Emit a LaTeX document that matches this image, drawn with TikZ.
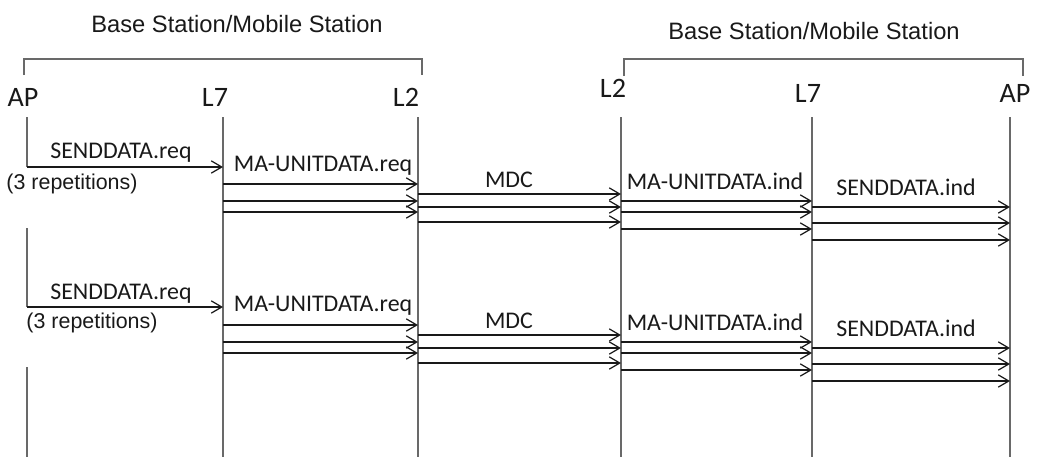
\documentclass[tikz,border=0pt]{standalone}
\usepackage{fontspec}
\setmainfont{Liberation Sans}
\newfontfamily\calfont{Carlito}
\usetikzlibrary{arrows.meta}
\definecolor{inkc}{RGB}{25,25,25}
\definecolor{linec}{RGB}{105,105,105}
\tikzset{
  life/.style={draw=linec, line width=0.65pt},
  brk/.style={draw=linec, line width=0.65pt},
  msg/.style={-{Straight Barb[length=6pt, width=7pt]}, draw=inkc, line width=0.7pt},
  head/.style={font=\calfont\fontsize{16}{19}\selectfont, text=inkc, inner sep=0pt},
  lbl/.style={font=\calfont\fontsize{13.6}{16}\selectfont, text=inkc, inner sep=0pt},
  title/.style={font=\fontsize{13.5}{16}\selectfont, text=inkc, inner sep=0pt},
  rep/.style={font=\fontsize{12.2}{14}\selectfont, text=inkc, inner sep=0pt},
}
% three messages between two lifelines, one at each height
\newcommand{\msgs}[5]{%
  \draw[msg] (#1 |- 0,#3) -- (#2 |- 0,#3);
  \draw[msg] (#1 |- 0,#4) -- (#2 |- 0,#4);
  \draw[msg] (#1 |- 0,#5) -- (#2 |- 0,#5);}

\begin{document}
\begin{tikzpicture}[x=0.02cm, y=-0.02cm]
  \useasboundingbox (0,0) rectangle (1039,457);

  \node[title] (stationa) at (237,24) {Base Station/Mobile Station};
  \node[title] (stationb) at (814,31) {Base Station/Mobile Station};
  \draw[brk] (24,75) |- (422,59) -- (422,75);
  \draw[brk] (624,76) |- (1023,59) -- (1023,76);

  \node[head] (apa) at (23,97) {AP};
  \node[head] (lsevena) at (215,97) {L7};
  \node[head] (ltwoa) at (406,97) {L2};
  \node[head] (ltwob) at (613,88) {L2};
  \node[head] (lsevenb) at (808,93) {L7};
  \node[head] (apb) at (1015,93) {AP};

  % lifelines
  \coordinate (apx) at (27,117);
  \coordinate (lsevenx) at (223,117);
  \coordinate (ltwox) at (418,117);
  \coordinate (ltwoy) at (621,117);
  \coordinate (lseveny) at (812,117);
  \coordinate (apy) at (1010,117);
  \draw[life] (apx) -- (apx |- 0,167);
  \draw[life] (apx |- 0,228) -- (apx |- 0,307);
  \draw[life] (apx |- 0,367) -- (apx |- 0,457);
  \draw[life] (lsevenx) -- (lsevenx |- 0,457);
  \draw[life] (ltwox) -- (ltwox |- 0,457);
  \draw[life] (ltwoy) -- (ltwoy |- 0,457);
  \draw[life] (lseveny) -- (lseveny |- 0,457);
  \draw[life] (apy) -- (apy |- 0,457);

  % first round
  \node[lbl] (senda) at (121,153) {SENDDATA.req};
  \node[rep] (repa) at (72,184) {(3 repetitions)};
  \node[lbl] (unitreqa) at (323,166) {MA-UNITDATA.req};
  \node[lbl] (mdca) at (509,180) {MDC};
  \node[lbl] (unitinda) at (715,181) {MA-UNITDATA.ind};
  \node[lbl] (sendinda) at (906,187) {SENDDATA.ind};
  \draw[msg] (apx |- 0,167) -- (lsevenx |- 0,167);
  \msgs{lsevenx}{ltwox}{184}{201}{212}
  \msgs{ltwox}{ltwoy}{194}{207}{222}
  \msgs{ltwoy}{lseveny}{201}{212}{229}
  \msgs{lseveny}{apy}{207}{223}{240}

  % second round
  \node[lbl] (sendb) at (121,294) {SENDDATA.req};
  \node[rep] (repb) at (92,323) {(3 repetitions)};
  \node[lbl] (unitreqb) at (323,306) {MA-UNITDATA.req};
  \node[lbl] (mdcb) at (509,321) {MDC};
  \node[lbl] (unitindb) at (715,322) {MA-UNITDATA.ind};
  \node[lbl] (sendindb) at (906,328) {SENDDATA.ind};
  \draw[msg] (apx |- 0,307) -- (lsevenx |- 0,307);
  \msgs{lsevenx}{ltwox}{325}{342}{353}
  \msgs{ltwox}{ltwoy}{335}{348}{363}
  \msgs{ltwoy}{lseveny}{342}{353}{370}
  \msgs{lseveny}{apy}{348}{364}{381}

\end{tikzpicture}
\end{document}
